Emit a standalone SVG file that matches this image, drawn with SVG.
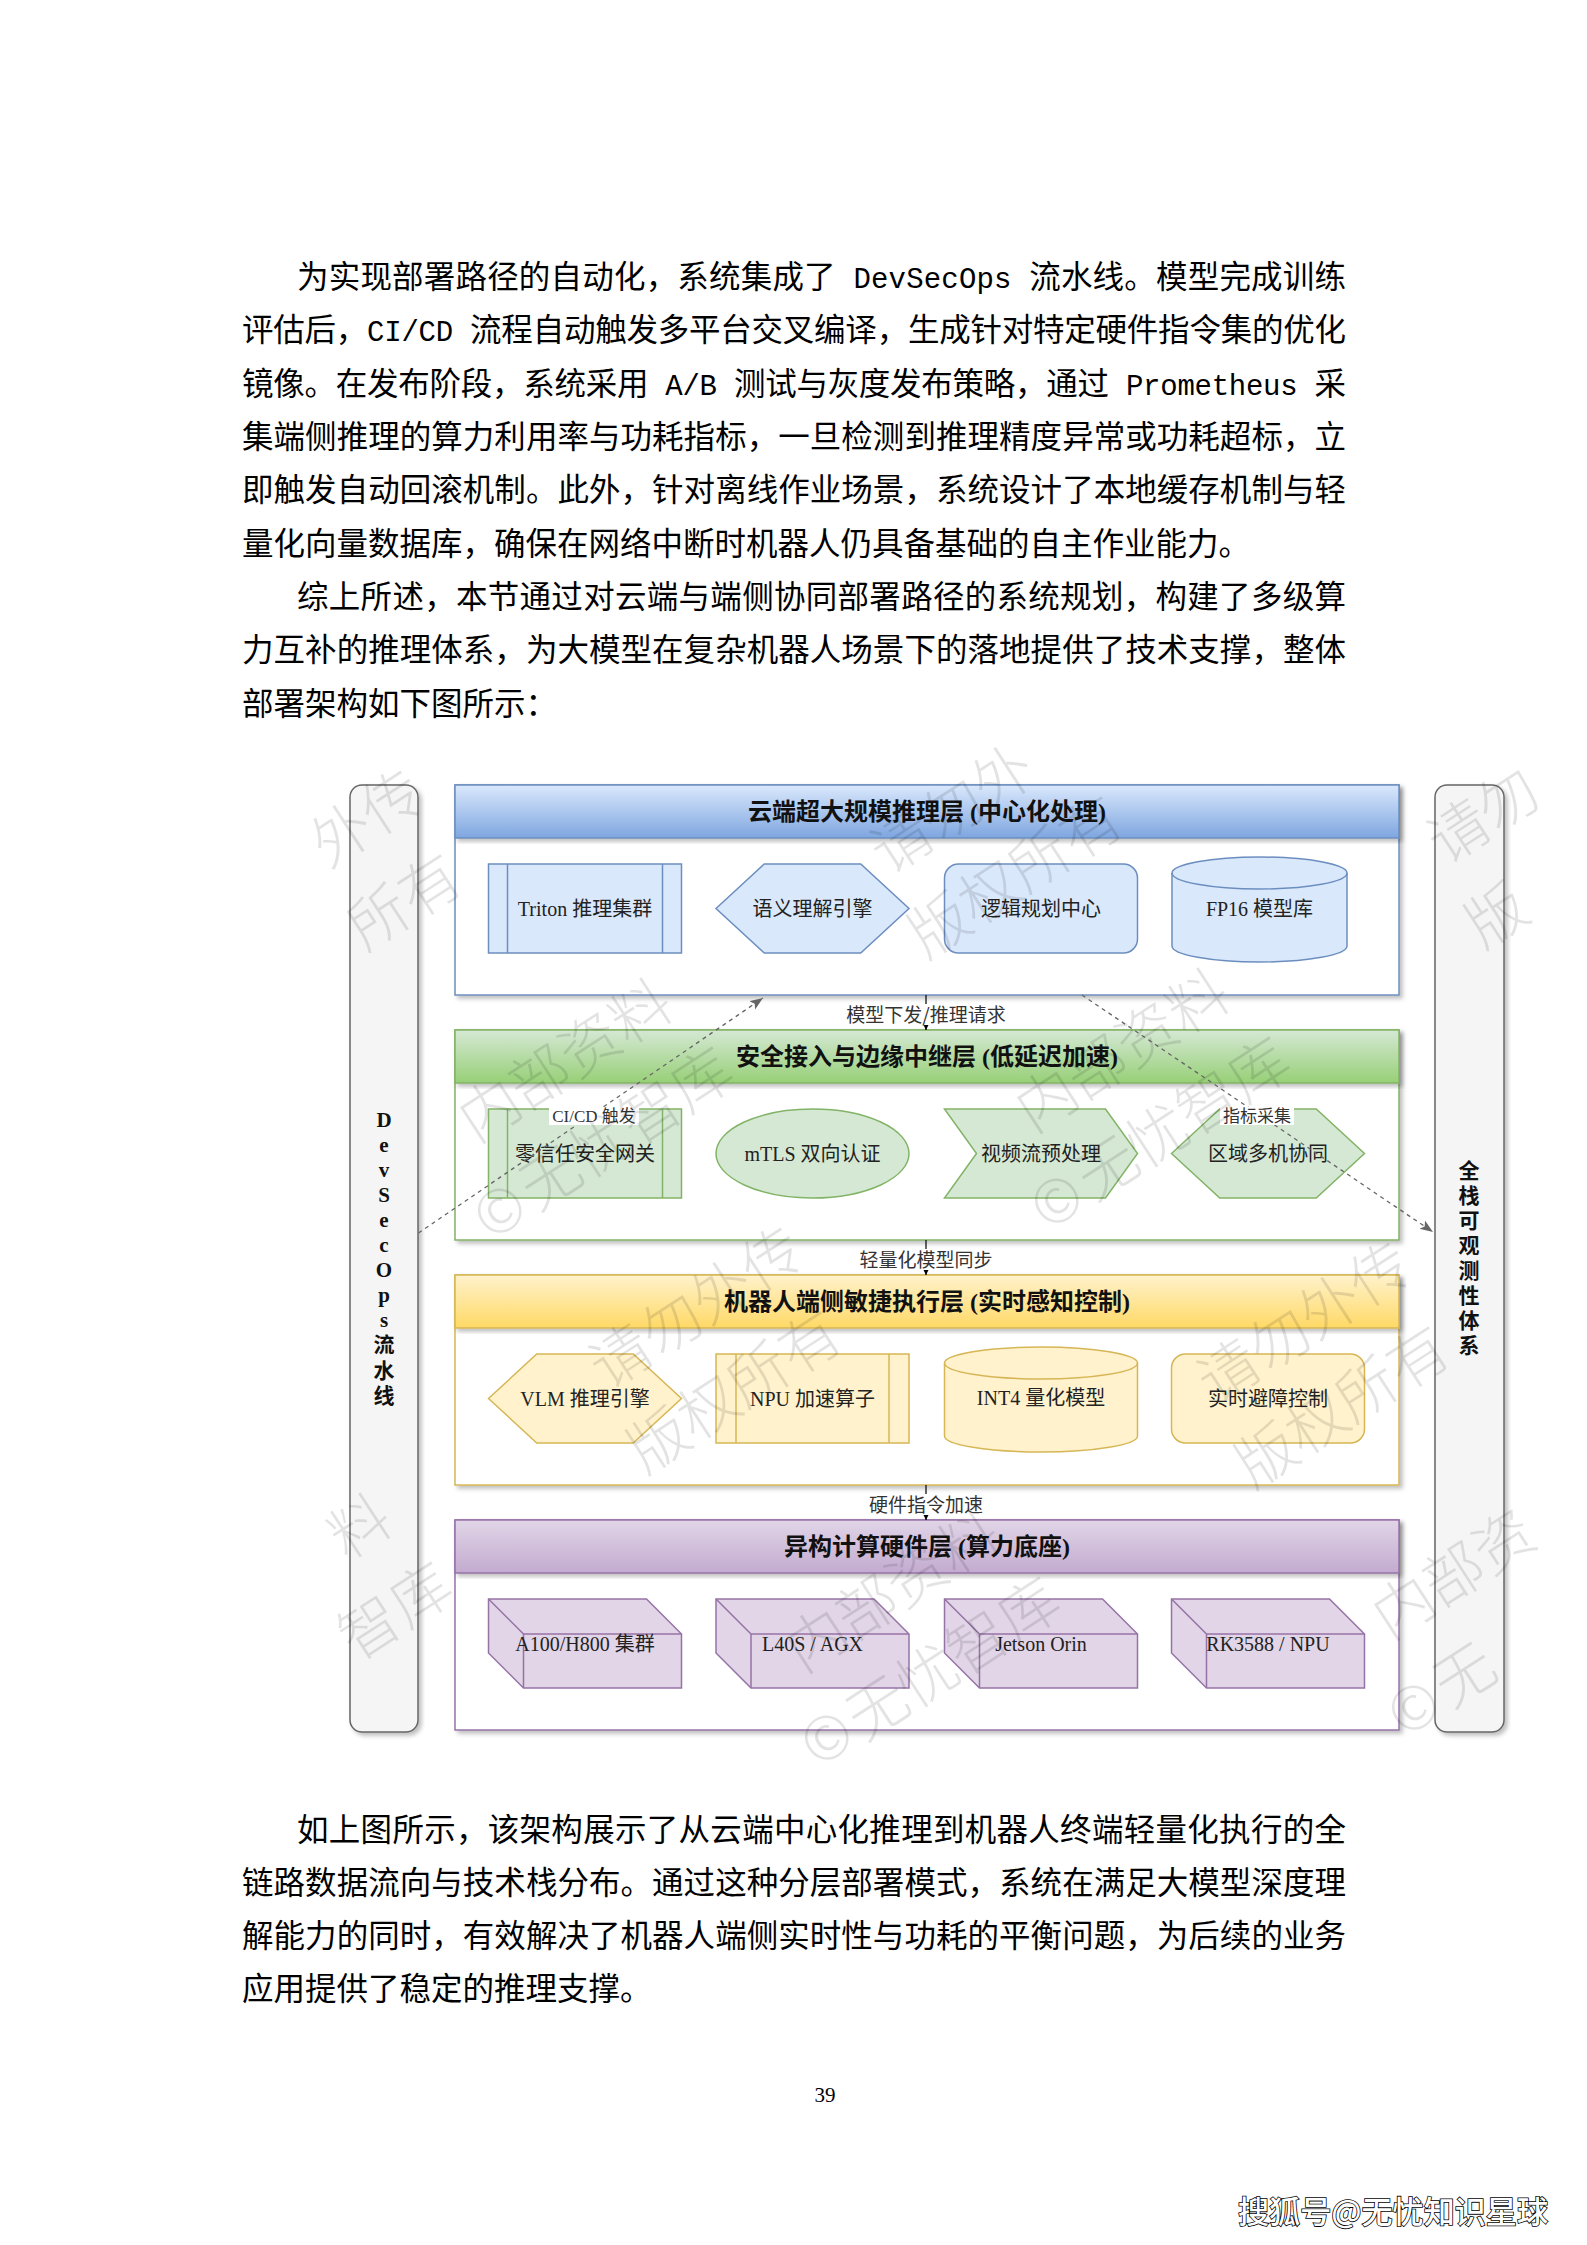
<svg xmlns="http://www.w3.org/2000/svg" width="1587" height="2245" viewBox="0 0 1587 2245">
<defs>
<style>
.body{font-family:"Noto Sans CJK SC","Noto Sans",sans-serif;font-size:31.5px;fill:#000}
.lat{font-family:"Liberation Mono",monospace;font-size:29px}
.node{font-family:"Liberation Serif","Noto Sans CJK SC",serif;font-size:20px;fill:#222;text-anchor:middle}
.title{font-family:"Liberation Serif","Noto Sans CJK SC",serif;font-weight:bold;font-size:24px;fill:#111;text-anchor:middle}
.lbl{font-family:"Noto Sans CJK SC",sans-serif;font-size:19px;fill:#333;text-anchor:middle}
.lbl2{font-family:"Liberation Serif","Noto Sans CJK SC",serif;font-size:17px;fill:#333;text-anchor:middle}
.side{font-family:"Liberation Serif","Noto Sans CJK SC",serif;font-weight:bold;font-size:21px;fill:#111;text-anchor:middle}
.bar{fill:#f5f5f5;stroke:#666;stroke-width:1.5}
.wm{font-family:"Noto Sans CJK SC",sans-serif;font-weight:300;font-size:60px;fill:#000;fill-opacity:0.11;text-anchor:middle}
.blue{fill:#dae8fc;stroke:#6c8ebf;stroke-width:1.5}
.green{fill:#d5e8d4;stroke:#82b366;stroke-width:1.5}
.yellow{fill:#fff2cc;stroke:#d6b656;stroke-width:1.5}
.purple{fill:#e1d5e7;stroke:#9673a6;stroke-width:1.5}
.ln{fill:none;stroke-width:1.5}
.solid{stroke:#000;stroke-width:1.2;fill:none}
.dash{stroke:#666;stroke-width:1.3;stroke-dasharray:4 4;fill:none}
.bg{fill:#fff}
</style>
<linearGradient id="gBlue" x1="0" y1="0" x2="0" y2="1"><stop offset="0" stop-color="#dae8fc"/><stop offset="1" stop-color="#7ea6e0"/></linearGradient>
<linearGradient id="gGreen" x1="0" y1="0" x2="0" y2="1"><stop offset="0" stop-color="#d5e8d4"/><stop offset="1" stop-color="#97d077"/></linearGradient>
<linearGradient id="gYellow" x1="0" y1="0" x2="0" y2="1"><stop offset="0" stop-color="#fff2cc"/><stop offset="1" stop-color="#ffd966"/></linearGradient>
<linearGradient id="gPurple" x1="0" y1="0" x2="0" y2="1"><stop offset="0" stop-color="#e1d5e7"/><stop offset="1" stop-color="#c3abd0"/></linearGradient>
<filter id="sh" x="-5%" y="-5%" width="115%" height="115%"><feDropShadow dx="3" dy="3" stdDeviation="2" flood-color="#000" flood-opacity="0.25"/></filter>
<marker id="aBlk" markerUnits="userSpaceOnUse" markerWidth="10" markerHeight="10" refX="8" refY="4" orient="auto"><path d="M0,0 L8,4 L0,8 Z" fill="#000"/></marker>
<marker id="aGry" markerUnits="userSpaceOnUse" markerWidth="14" markerHeight="12" refX="13" refY="5" orient="auto"><path d="M0,0 L13,5 L0,10 L3,5 Z" fill="#666"/></marker>
</defs>
<rect width="1587" height="2245" fill="#fff"/>

<g id="text-top">
<text class="body" x="297" y="288" textLength="1049" lengthAdjust="spacing">为实现部署路径的自动化，系统集成了<tspan class="lat"> DevSecOps </tspan>流水线。模型完成训练</text>
<text class="body" x="242" y="341.4" textLength="1104" lengthAdjust="spacing">评估后，<tspan class="lat">CI/CD </tspan>流程自动触发多平台交叉编译，生成针对特定硬件指令集的优化</text>
<text class="body" x="242" y="394.7" textLength="1104" lengthAdjust="spacing">镜像。在发布阶段，系统采用<tspan class="lat"> A/B </tspan>测试与灰度发布策略，通过<tspan class="lat"> Prometheus </tspan>采</text>
<text class="body" x="242" y="448" textLength="1104" lengthAdjust="spacing">集端侧推理的算力利用率与功耗指标，一旦检测到推理精度异常或功耗超标，立</text>
<text class="body" x="242" y="501.4" textLength="1104" lengthAdjust="spacing">即触发自动回滚机制。此外，针对离线作业场景，系统设计了本地缓存机制与轻</text>
<text class="body" x="242" y="554.8">量化向量数据库，确保在网络中断时机器人仍具备基础的自主作业能力。</text>
<text class="body" x="297" y="608.1" textLength="1049" lengthAdjust="spacing">综上所述，本节通过对云端与端侧协同部署路径的系统规划，构建了多级算</text>
<text class="body" x="242" y="661.4" textLength="1104" lengthAdjust="spacing">力互补的推理体系，为大模型在复杂机器人场景下的落地提供了技术支撑，整体</text>
<text class="body" x="242" y="714.8">部署架构如下图所示：</text>
</g>

<g id="sidebar-devsecops">
<rect class="bar" x="350" y="785" width="68" height="947" rx="12" filter="url(#sh)"/>
<text class="side" x="384"><tspan x="384" y="1126.5">D</tspan><tspan x="384" y="1151.6">e</tspan><tspan x="384" y="1176.7">v</tspan><tspan x="384" y="1201.8">S</tspan><tspan x="384" y="1226.9">e</tspan><tspan x="384" y="1252">c</tspan><tspan x="384" y="1277.1">O</tspan><tspan x="384" y="1302.2">p</tspan><tspan x="384" y="1327.3">s</tspan><tspan x="384" y="1352.4">流</tspan><tspan x="384" y="1377.5">水</tspan><tspan x="384" y="1402.6">线</tspan></text>
</g>
<g id="sidebar-observability">
<rect class="bar" x="1435" y="785" width="69" height="947" rx="12" filter="url(#sh)"/>
<text class="side" x="1469"><tspan x="1469" y="1177.5">全</tspan><tspan x="1469" y="1202.6">栈</tspan><tspan x="1469" y="1227.7">可</tspan><tspan x="1469" y="1252.8">观</tspan><tspan x="1469" y="1277.9">测</tspan><tspan x="1469" y="1303">性</tspan><tspan x="1469" y="1328.1">体</tspan><tspan x="1469" y="1353.2">系</tspan></text>
</g>

<g id="layer-cloud">
<rect x="455" y="785" width="944" height="210" fill="#fff" stroke="#6c8ebf" stroke-width="1.5" filter="url(#sh)"/>
<rect x="455" y="785" width="944" height="53" fill="url(#gBlue)" stroke="#6c8ebf" stroke-width="1.5" filter="url(#sh)"/>
<text class="title" x="927" y="820">云端超大规模推理层 (中心化处理)</text>
</g>
<g id="node-triton"><rect class="blue" x="488.5" y="864" width="193" height="89"/><path class="ln" stroke="#6c8ebf" d="M507.5,864 V953 M662.5,864 V953"/><text class="node" x="585" y="915.5">Triton 推理集群</text></g>
<g id="node-semantic"><polygon class="blue" points="716,908.5 764.25,864 860.75,864 909,908.5 860.75,953 764.25,953"/><text class="node" x="812.5" y="915.5">语义理解引擎</text></g>
<g id="node-planning"><rect class="blue" x="944.5" y="864" width="193" height="89" rx="14"/><text class="node" x="1041" y="915.5">逻辑规划中心</text></g>
<g id="node-fp16"><path class="blue" d="M1172,873 A87.5,16 0 0 1 1347,873 V946 A87.5,16 0 0 1 1172,946 Z"/><path class="ln" stroke="#6c8ebf" d="M1172,873 A87.5,16 0 0 0 1347,873"/><text class="node" x="1259.5" y="915.5">FP16 模型库</text></g>

<g id="layer-edge">
<rect x="455" y="1030" width="944" height="210" fill="#fff" stroke="#82b366" stroke-width="1.5" filter="url(#sh)"/>
<rect x="455" y="1030" width="944" height="53" fill="url(#gGreen)" stroke="#82b366" stroke-width="1.5" filter="url(#sh)"/>
<text class="title" x="927" y="1065">安全接入与边缘中继层 (低延迟加速)</text>
</g>
<g id="node-gateway"><rect class="green" x="488.5" y="1109" width="193" height="89"/><path class="ln" stroke="#82b366" d="M507.5,1109 V1198 M662.5,1109 V1198"/><text class="node" x="585" y="1160.5">零信任安全网关</text></g>
<g id="node-mtls"><ellipse class="green" cx="812.5" cy="1153.5" rx="96.5" ry="44.5"/><text class="node" x="812.5" y="1160.5">mTLS 双向认证</text></g>
<g id="node-video"><path class="green" d="M944.5,1109 L1105.5,1109 L1137.5,1153.5 L1105.5,1198 L944.5,1198 L976.5,1153.5 Z"/><text class="node" x="1041" y="1160.5">视频流预处理</text></g>
<g id="node-multi"><polygon class="green" points="1171.5,1153.5 1219.75,1109 1316.25,1109 1364.5,1153.5 1316.25,1198 1219.75,1198"/><text class="node" x="1268" y="1160.5">区域多机协同</text></g>

<g id="layer-robot">
<rect x="455" y="1275" width="944" height="210" fill="#fff" stroke="#d6b656" stroke-width="1.5" filter="url(#sh)"/>
<rect x="455" y="1275" width="944" height="53" fill="url(#gYellow)" stroke="#d6b656" stroke-width="1.5" filter="url(#sh)"/>
<text class="title" x="927" y="1310">机器人端侧敏捷执行层 (实时感知控制)</text>
</g>
<g id="node-vlm"><polygon class="yellow" points="488.5,1398.5 536.75,1354 633.25,1354 681.5,1398.5 633.25,1443 536.75,1443"/><text class="node" x="585" y="1405.5">VLM 推理引擎</text></g>
<g id="node-npu"><rect class="yellow" x="716" y="1354" width="193" height="89"/><path class="ln" stroke="#d6b656" d="M736,1354 V1443 M889,1354 V1443"/><text class="node" x="812.5" y="1405.5">NPU 加速算子</text></g>
<g id="node-int4"><path class="yellow" d="M944.5,1363 A96.5,16 0 0 1 1137.5,1363 V1436 A96.5,16 0 0 1 944.5,1436 Z"/><path class="ln" stroke="#d6b656" d="M944.5,1363 A96.5,16 0 0 0 1137.5,1363"/><text class="node" x="1041" y="1404.5">INT4 量化模型</text></g>
<g id="node-avoid"><rect class="yellow" x="1171.5" y="1354" width="193" height="89" rx="14"/><text class="node" x="1268" y="1405.5">实时避障控制</text></g>

<g id="layer-hardware">
<rect x="455" y="1520" width="944" height="210" fill="#fff" stroke="#9673a6" stroke-width="1.5" filter="url(#sh)"/>
<rect x="455" y="1520" width="944" height="53" fill="url(#gPurple)" stroke="#9673a6" stroke-width="1.5" filter="url(#sh)"/>
<text class="title" x="927" y="1555">异构计算硬件层 (算力底座)</text>
</g>
<g id="node-a100"><path class="purple" d="M488.5,1599 L646.5,1599 L681.5,1634 L681.5,1688 L523.5,1688 L488.5,1653 Z"/><path class="ln" stroke="#9673a6" d="M488.5,1599 L523.5,1634 L681.5,1634 M523.5,1634 V1688"/><text class="node" x="585" y="1650.5">A100/H800 集群</text></g>
<g id="node-l40s"><path class="purple" d="M716,1599 L874,1599 L909,1634 L909,1688 L751,1688 L716,1653 Z"/><path class="ln" stroke="#9673a6" d="M716,1599 L751,1634 L909,1634 M751,1634 V1688"/><text class="node" x="812.5" y="1650.5">L40S / AGX</text></g>
<g id="node-jetson"><path class="purple" d="M944.5,1599 L1102.5,1599 L1137.5,1634 L1137.5,1688 L979.5,1688 L944.5,1653 Z"/><path class="ln" stroke="#9673a6" d="M944.5,1599 L979.5,1634 L1137.5,1634 M979.5,1634 V1688"/><text class="node" x="1041" y="1650.5">Jetson Orin</text></g>
<g id="node-rk3588"><path class="purple" d="M1171.5,1599 L1329.5,1599 L1364.5,1634 L1364.5,1688 L1206.5,1688 L1171.5,1653 Z"/><path class="ln" stroke="#9673a6" d="M1171.5,1599 L1206.5,1634 L1364.5,1634 M1206.5,1634 V1688"/><text class="node" x="1268" y="1650.5">RK3588 / NPU</text></g>

<g id="connectors">
<line class="solid" x1="926" y1="995" x2="926" y2="1030" marker-end="url(#aBlk)"/>
<rect class="bg" x="845" y="1004" width="162" height="21"/>
<text class="lbl" x="926" y="1022">模型下发/推理请求</text>
<line class="solid" x1="926" y1="1240" x2="926" y2="1275" marker-end="url(#aBlk)"/>
<rect class="bg" x="855" y="1249" width="142" height="21"/>
<text class="lbl" x="926" y="1267">轻量化模型同步</text>
<line class="solid" x1="926" y1="1485" x2="926" y2="1520" marker-end="url(#aBlk)"/>
<rect class="bg" x="865" y="1494" width="122" height="21"/>
<text class="lbl" x="926" y="1512">硬件指令加速</text>
<line class="dash" x1="418.5" y1="1233" x2="763" y2="998" marker-end="url(#aGry)"/>
<rect class="bg" x="549" y="1107" width="90" height="18"/>
<text class="lbl2" x="594" y="1122">CI/CD 触发</text>
<line class="dash" x1="1082" y1="995" x2="1433" y2="1232" marker-end="url(#aGry)"/>
<rect class="bg" x="1220" y="1107" width="74" height="18"/>
<text class="lbl2" x="1257" y="1122">指标采集</text>
</g>

<g id="watermark">
<text class="wm" transform="translate(342,835) rotate(-33)" y="21">外</text>
<text class="wm" transform="translate(392,802) rotate(-33)" y="21">传</text>
<text class="wm" transform="translate(379,918) rotate(-33)" y="21">所</text>
<text class="wm" transform="translate(430,886) rotate(-33)" y="21">有</text>

<text class="wm" transform="translate(490,1110) rotate(-33)" y="21">内</text>
<text class="wm" transform="translate(540,1078) rotate(-33)" y="21">部</text>
<text class="wm" transform="translate(590,1045) rotate(-33)" y="21">资</text>
<text class="wm" transform="translate(641,1012) rotate(-33)" y="21">料</text>
<text class="wm" transform="translate(902,842) rotate(-33)" y="21">请</text>
<text class="wm" transform="translate(953,810) rotate(-33)" y="21">勿</text>
<text class="wm" transform="translate(1003,777) rotate(-33)" y="21">外</text>
<text class="wm" transform="translate(500,1211) rotate(-33)" y="21">©</text>
<text class="wm" transform="translate(551,1178) rotate(-33)" y="21">无</text>
<text class="wm" transform="translate(601,1146) rotate(-33)" y="21">忧</text>
<text class="wm" transform="translate(651,1113) rotate(-33)" y="21">智</text>
<text class="wm" transform="translate(702,1080) rotate(-33)" y="21">库</text>
<text class="wm" transform="translate(940,926) rotate(-33)" y="21">版</text>
<text class="wm" transform="translate(990,893) rotate(-33)" y="21">权</text>
<text class="wm" transform="translate(1040,860) rotate(-33)" y="21">所</text>
<text class="wm" transform="translate(1091,828) rotate(-33)" y="21">有</text>

<text class="wm" transform="translate(1047,1100) rotate(-33)" y="21">内</text>
<text class="wm" transform="translate(1097,1068) rotate(-33)" y="21">部</text>
<text class="wm" transform="translate(1147,1035) rotate(-33)" y="21">资</text>
<text class="wm" transform="translate(1198,1002) rotate(-33)" y="21">料</text>
<text class="wm" transform="translate(1459,832) rotate(-33)" y="21">请</text>
<text class="wm" transform="translate(1508,800) rotate(-33)" y="21">勿</text>
<text class="wm" transform="translate(1057,1201) rotate(-33)" y="21">©</text>
<text class="wm" transform="translate(1108,1168) rotate(-33)" y="21">无</text>
<text class="wm" transform="translate(1158,1136) rotate(-33)" y="21">忧</text>
<text class="wm" transform="translate(1208,1103) rotate(-33)" y="21">智</text>
<text class="wm" transform="translate(1259,1070) rotate(-33)" y="21">库</text>
<text class="wm" transform="translate(1497,916) rotate(-33)" y="21">版</text>

<text class="wm" transform="translate(360,1527) rotate(-33)" y="21">料</text>
<text class="wm" transform="translate(621,1357) rotate(-33)" y="21">请</text>
<text class="wm" transform="translate(672,1325) rotate(-33)" y="21">勿</text>
<text class="wm" transform="translate(722,1292) rotate(-33)" y="21">外</text>
<text class="wm" transform="translate(772,1259) rotate(-33)" y="21">传</text>
<text class="wm" transform="translate(370,1628) rotate(-33)" y="21">智</text>
<text class="wm" transform="translate(421,1595) rotate(-33)" y="21">库</text>
<text class="wm" transform="translate(659,1441) rotate(-33)" y="21">版</text>
<text class="wm" transform="translate(709,1408) rotate(-33)" y="21">权</text>
<text class="wm" transform="translate(759,1375) rotate(-33)" y="21">所</text>
<text class="wm" transform="translate(810,1343) rotate(-33)" y="21">有</text>

<text class="wm" transform="translate(817,1640) rotate(-33)" y="21">内</text>
<text class="wm" transform="translate(867,1608) rotate(-33)" y="21">部</text>
<text class="wm" transform="translate(917,1575) rotate(-33)" y="21">资</text>
<text class="wm" transform="translate(968,1542) rotate(-33)" y="21">料</text>
<text class="wm" transform="translate(1229,1372) rotate(-33)" y="21">请</text>
<text class="wm" transform="translate(1280,1340) rotate(-33)" y="21">勿</text>
<text class="wm" transform="translate(1330,1307) rotate(-33)" y="21">外</text>
<text class="wm" transform="translate(1380,1274) rotate(-33)" y="21">传</text>
<text class="wm" transform="translate(827,1738) rotate(-33)" y="21">©</text>
<text class="wm" transform="translate(878,1708) rotate(-33)" y="21">无</text>
<text class="wm" transform="translate(928,1676) rotate(-33)" y="21">忧</text>
<text class="wm" transform="translate(978,1643) rotate(-33)" y="21">智</text>
<text class="wm" transform="translate(1029,1610) rotate(-33)" y="21">库</text>
<text class="wm" transform="translate(1267,1456) rotate(-33)" y="21">版</text>
<text class="wm" transform="translate(1317,1423) rotate(-33)" y="21">权</text>
<text class="wm" transform="translate(1367,1390) rotate(-33)" y="21">所</text>
<text class="wm" transform="translate(1418,1358) rotate(-33)" y="21">有</text>

<text class="wm" transform="translate(1404,1607) rotate(-33)" y="21">内</text>
<text class="wm" transform="translate(1454,1575) rotate(-33)" y="21">部</text>
<text class="wm" transform="translate(1504,1542) rotate(-33)" y="21">资</text>
<text class="wm" transform="translate(1414,1708) rotate(-33)" y="21">©</text>
<text class="wm" transform="translate(1465,1675) rotate(-33)" y="21">无</text>
</g>

<g id="text-bottom">
<text class="body" x="297" y="1841" textLength="1049" lengthAdjust="spacing">如上图所示，该架构展示了从云端中心化推理到机器人终端轻量化执行的全</text>
<text class="body" x="242" y="1894" textLength="1104" lengthAdjust="spacing">链路数据流向与技术栈分布。通过这种分层部署模式，系统在满足大模型深度理</text>
<text class="body" x="242" y="1947" textLength="1104" lengthAdjust="spacing">解能力的同时，有效解决了机器人端侧实时性与功耗的平衡问题，为后续的业务</text>
<text class="body" x="242" y="2000">应用提供了稳定的推理支撑。</text>
<text x="825" y="2102" font-family="Liberation Serif, serif" font-size="21" text-anchor="middle" fill="#000">39</text>
<text x="1238" y="2223" textLength="310" lengthAdjust="spacingAndGlyphs" font-family="Noto Sans CJK SC, sans-serif" font-size="31" font-weight="500" fill="#fff" stroke="#000" stroke-width="1.6" paint-order="stroke">搜狐号@无忧知识星球</text>
</g>
</svg>
